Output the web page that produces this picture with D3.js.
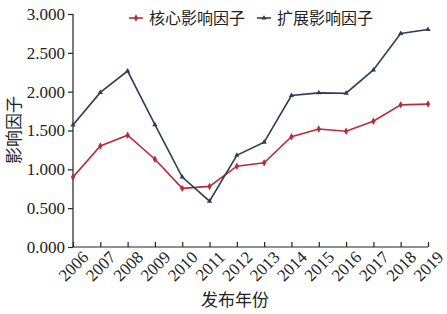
<!DOCTYPE html>
<html>
<head>
<meta charset="utf-8">
<script src="https://cdn.jsdelivr.net/npm/d3@7"></script>
<style>
  body { margin: 0; background: #fff; }
  svg { display: block; }
</style>
</head>
<body>
<div id="chart"></div>
<script>
// ---------- data ----------
const years = ["2006","2007","2008","2009","2010","2011","2012","2013","2014","2015","2016","2017","2018","2019"];
const coreIF = [0.90, 1.30, 1.44, 1.13, 0.755, 0.78, 1.04, 1.085, 1.42, 1.52, 1.49, 1.62, 1.83, 1.84];
const extIF  = [1.57, 1.99, 2.265, 1.575, 0.90, 0.59, 1.18, 1.35, 1.95, 1.985, 1.98, 2.28, 2.75, 2.80];
const yTicks = [0, 0.5, 1.0, 1.5, 2.0, 2.5, 3.0];
const seriesNames = ["核心影响因子", "扩展影响因子"];

const width = 447, height = 314;
const margin = {top: 14, right: 19, bottom: 67, left: 73};

const svg = d3.select("#chart").append("svg")
    .attr("width", width)
    .attr("height", height);

const x = d3.scalePoint()
    .domain(years)
    .range([margin.left, width - margin.right]);

const y = d3.scaleLinear()
    .domain([0, 3])
    .range([height - margin.bottom, margin.top]);

const numFont = "'Liberation Serif', 'Times New Roman', serif";
const cjkFont = "'Noto Sans CJK SC', sans-serif";

// y axis
const yAxis = svg.append("g")
    .attr("transform", `translate(${margin.left},0)`)
    .call(d3.axisLeft(y).tickValues(yTicks).tickFormat(d3.format(".3f")).tickSize(5).tickPadding(3));
yAxis.selectAll("text")
    .style("font-family", numFont)
    .style("font-size", "17px")
    .attr("fill", "#222");

// x axis (ticks point inward)
const xAxis = svg.append("g")
    .attr("transform", `translate(0,${height - margin.bottom})`)
    .call(d3.axisBottom(x).tickSize(-5).tickPadding(4));
xAxis.selectAll("text")
    .style("font-family", numFont)
    .style("font-size", "17px")
    .attr("fill", "#222")
    .attr("text-anchor", "end")
    .attr("dx", "0.2em")
    .attr("dy", "0.9em")
    .attr("transform", "rotate(-45)");

svg.selectAll(".domain, .tick line").attr("stroke", "#222").attr("stroke-width", 1.2);
yAxis.select(".domain").attr("d", `M0,${y(3)}V${y(0)}`);
xAxis.select(".domain").attr("d", `M${margin.left},0H${width - margin.right}`);

// axis titles
svg.append("text")
    .attr("x", 235).attr("y", 306)
    .attr("text-anchor", "middle")
    .style("font-family", cjkFont)
    .style("font-size", "17px")
    .attr("fill", "#222")
    .text("发布年份");

svg.append("text")
    .attr("transform", "translate(20,130) rotate(-90)")
    .attr("text-anchor", "middle")
    .style("font-family", cjkFont)
    .style("font-size", "17px")
    .attr("fill", "#222")
    .text("影响因子");

// lines
const colors = ["#b52d3a", "#2c3d57"];
const series = [coreIF, extIF];
const line = d3.line()
    .x((d, i) => x(years[i]))
    .y(d => y(d));

series.forEach((vals, s) => {
    svg.append("path")
        .datum(vals)
        .attr("fill", "none")
        .attr("stroke", colors[s])
        .attr("stroke-width", 1.6)
        .attr("d", line);

    const sym = d3.symbol().type(s === 0 ? d3.symbolDiamond : d3.symbolTriangle).size(s === 0 ? 16 : 12);
    svg.selectAll(null)
        .data(vals)
        .join("path")
        .attr("transform", (d, i) => `translate(${x(years[i])},${y(d)})`)
        .attr("d", sym)
        .attr("fill", colors[s]);
});

// legend
const legendPos = [129, 257];
seriesNames.forEach((name, s) => {
    const g = svg.append("g").attr("transform", `translate(${legendPos[s]},18)`);
    g.append("line")
        .attr("x1", 0).attr("x2", 14)
        .attr("stroke", colors[s]).attr("stroke-width", 1.6);
    g.append("path")
        .attr("transform", "translate(7,0)")
        .attr("d", d3.symbol().type(s === 0 ? d3.symbolDiamond : d3.symbolTriangle).size(s === 0 ? 16 : 12))
        .attr("fill", colors[s]);
    g.append("text")
        .attr("x", 20).attr("y", 6)
        .style("font-family", cjkFont)
        .style("font-size", "16px")
        .attr("fill", "#222")
        .text(name);
});
</script>
</body>
</html>
